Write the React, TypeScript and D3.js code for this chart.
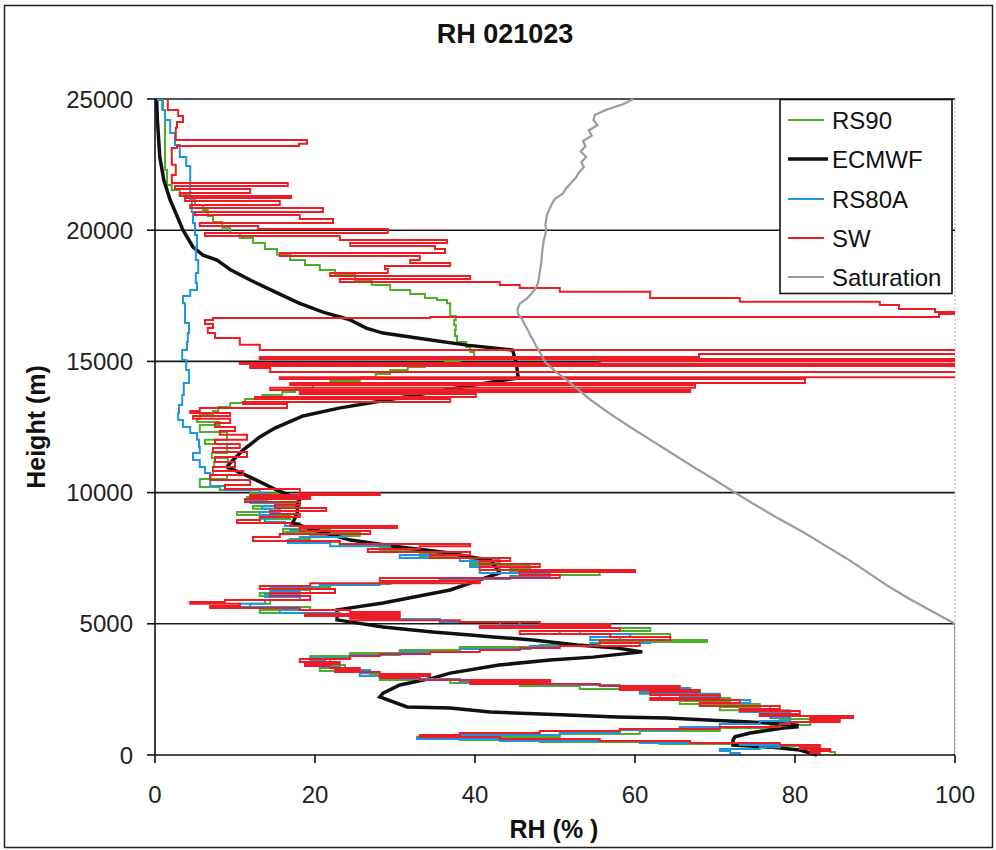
import React from "react";
import * as d3 from "d3";

// Profiles of relative humidity: [height (m), RH (%)]
const rs90: [number, number][] = [
  [24960, 0.6], [24580, 1], [24080, 1.25], [22300, 1.25], [21720, 1.5], [21530, 2.1], [21380, 3.1],
  [21190, 4.4], [20960, 5], [20770, 6], [20540, 6.6], [20310, 7.25], [20090, 8.4], [19890, 9.4],
  [19700, 10.6], [19510, 12.25], [19280, 13.75], [19060, 15.25], [18860, 16.9], [18670, 18.75],
  [18480, 20.6], [18290, 22.5], [18100, 25], [17910, 27.1], [17720, 29.4], [17570, 31.9], [17420, 33.75],
  [17340, 35.25], [17220, 36.5], [17040, 36.9], [16730, 36.9], [16580, 37.6], [16390, 37.4], [16200, 37.6],
  [15970, 37.5], [15740, 37.75], [15550, 38.9], [15360, 39.4], [15170, 39.9], [15020, 38.1], [14900, 36.25],
  [14790, 33.75], [14670, 31.6], [14520, 29.4], [14400, 27.6], [14250, 25.6], [14100, 21.9], [14000, 19.75],
  [13830, 17.5], [13720, 15.9], [13570, 13.4], [13410, 11.25], [13260, 9.4], [13110, 7.9], [12960, 7.25],
  [12810, 5.6], [12690, 5.25], [12580, 8.1], [12460, 5.6], [12310, 5.6], [12160, 9], [12010, 9],
  [11850, 6.25], [11660, 9], [11510, 9], [11320, 7.1], [11170, 9.1], [10980, 7.4], [10820, 9.1],
  [10670, 7.25], [10520, 9], [10370, 5.6], [10210, 5.6], [10100, 8.1], [9980, 11.9], [9830, 15.6],
  [9720, 11.5], [9600, 14], [9490, 18.1], [9380, 12.25], [9260, 14.4], [9150, 10.25], [8990, 16.9],
  [8840, 13.1], [8730, 18.1], [8610, 21.9], [8500, 16], [8350, 25.6], [8230, 19.4], [8120, 16.9],
  [8000, 23.1], [7890, 30.6], [7770, 28.1], [7660, 35.6], [7550, 33.1], [7430, 39.4], [7320, 43.1],
  [7200, 39.4], [7090, 46.9], [6970, 44.4], [6860, 55.6], [6750, 45.6], [6630, 35.6], [6520, 29.4],
  [6400, 21.9], [6290, 16.9], [6170, 19.4], [6060, 13.1], [5910, 18.1], [5760, 14.4], [5640, 11.9],
  [5530, 19.4], [5410, 13.1], [5300, 21.9], [5180, 28.1], [5070, 35.6], [4950, 45.6], [4840, 55.6],
  [4730, 61.9], [4610, 53.1], [4500, 64.4], [4380, 58.1], [4310, 69], [4190, 55.6], [4120, 48.1],
  [4000, 38.1], [3890, 30.6], [3770, 24.4], [3660, 19.4], [3540, 21.9], [3430, 18.75], [3320, 23.75],
  [3200, 20.6], [3090, 26.9], [2970, 33.1], [2860, 28.1], [2740, 36.9], [2630, 45.6], [2520, 53.1],
  [2400, 60.6], [2290, 68.1], [2170, 63.1], [2060, 71.9], [1940, 65.6], [1830, 75.6], [1710, 70.6],
  [1600, 79.4], [1490, 75.6], [1370, 84.4], [1260, 78.1], [1140, 81.9], [1030, 76.9], [910, 70.6],
  [800, 60.6], [690, 50.6], [570, 38.1], [500, 48.1], [420, 63.1], [340, 74.4], [270, 83.1],
  [190, 81.9], [110, 84.4], [0, 85],
];

const ecmwf: [number, number][] = [
  [25000, 0.2], [24200, 0.3], [22790, 0.6], [21910, 1.1], [21150, 1.9], [20580, 2.7], [20000, 3.5],
  [19360, 4.75], [19050, 6], [18860, 7.75], [18480, 9.5], [18100, 11.9], [17650, 15], [17220, 18],
  [16880, 21], [16580, 24.4], [16270, 26.4], [16080, 28.5], [15810, 34.7], [15620, 39], [15430, 44.7],
  [14860, 45.2], [14370, 45.4], [14210, 42], [13910, 36.3], [13530, 29], [13220, 23], [12920, 18.5],
  [12460, 15], [12120, 13.1], [11620, 11], [11130, 9.4], [10980, 9], [10590, 11.9], [10100, 15.2],
  [9720, 18.1], [9530, 17.8], [9220, 17.8], [8840, 17.2], [8570, 20], [8190, 24.4], [7930, 30.6],
  [7700, 36.9], [7550, 39.4], [7430, 41.9], [6940, 43.1], [6550, 39.4], [6290, 36.9], [5790, 28.5],
  [5530, 22.75], [5150, 22.75], [4880, 28.5], [4690, 34.7], [4570, 39.4], [4500, 42.25], [4380, 47.25],
  [4190, 52.75], [4080, 57.75], [3930, 60.9], [3730, 54.75], [3620, 49.4], [3430, 43], [3120, 36.9],
  [2930, 34.7], [2670, 30.6], [2360, 28.5], [2210, 28.1], [1830, 31.5], [1790, 36.9], [1640, 41.9],
  [1520, 51.5], [1450, 57.75], [1410, 64], [1330, 69], [1260, 74.4], [1140, 80.25], [1070, 80.25],
  [1030, 78.5], [840, 74.4], [690, 72.5], [570, 72.25], [380, 72.25], [300, 76.9], [190, 80.6],
  [0, 82.75],
];

const rs80a: [number, number][] = [
  [24960, 0.25], [24580, 0.9], [24200, 1.25], [23700, 1.9], [23250, 2.5], [22790, 3.1], [22450, 3.9],
  [22180, 4.4], [21720, 4.4], [21150, 4.4], [20690, 4.6], [20270, 4.75], [19820, 5], [19360, 5.25],
  [18860, 5.1], [18370, 5.4], [17990, 5.1], [17720, 5.25], [17490, 4.4], [17220, 3.5], [16850, 3.75],
  [16460, 3.75], [16080, 4.25], [15740, 4.1], [15430, 4], [15050, 3.4], [14670, 3.9], [14180, 4.25],
  [13720, 3.6], [13340, 3.4], [13030, 3], [12770, 2.9], [12500, 3.5], [12270, 4.4], [12010, 5.25],
  [11740, 5.5], [11510, 5.6], [11240, 4.75], [10980, 5.6], [10750, 6.25], [10480, 6.9], [10250, 6.9],
  [10100, 8.75], [9950, 13.1], [9830, 14], [9720, 13.4], [9600, 11.9], [9490, 15.25], [9380, 13.4],
  [9260, 15.6], [9150, 13.1], [9030, 15], [8880, 13.75], [8730, 16.25], [8570, 18.1], [8420, 16.9],
  [8310, 23.75], [8190, 18.1], [8080, 16.6], [7960, 21.9], [7850, 29.4], [7740, 31.9], [7620, 34.4],
  [7510, 30.6], [7390, 38.1], [7280, 41.9], [7160, 39.4], [7050, 43.1], [6940, 40.6], [6820, 49.4],
  [6710, 44.4], [6590, 35.6], [6480, 28.1], [6360, 20.6], [6250, 14.4], [6140, 18.1], [6020, 13.75],
  [5910, 18.1], [5760, 13.75], [5640, 10.6], [5530, 18.1], [5410, 15.6], [5300, 23.1], [5180, 25.6],
  [5070, 35.6], [4950, 43.1], [4840, 51.9], [4730, 58.1], [4610, 50.6], [4500, 59.4], [4380, 54.4],
  [4270, 61.9], [4150, 54.4], [4040, 46.9], [3930, 38.1], [3810, 30.6], [3700, 24.4], [3580, 19.4],
  [3470, 21.25], [3350, 20.6], [3240, 23.1], [3120, 26.9], [3010, 25.6], [2900, 30.6], [2780, 38.1],
  [2670, 48.1], [2550, 58.1], [2440, 66.9], [2330, 60.6], [2210, 70.6], [2100, 65.6], [1980, 74.4],
  [1870, 68.1], [1750, 76.9], [1640, 73.1], [1520, 79.4], [1410, 76.9], [1300, 79.4], [1180, 75.6],
  [1070, 70.6], [950, 65.6], [840, 58.1], [760, 50.6], [690, 34.4], [610, 32.75], [530, 43.1],
  [460, 60.6], [380, 73.1], [300, 78.1], [230, 75.6], [150, 70.6], [80, 71.9], [0, 73.1],
];

const sw: [number, number][] = [
  [24960, 1.5], [24580, 1.6], [24350, 2.9], [24120, 3.5], [23900, 2.75], [23440, 2.6], [23290, 19],
  [23210, 18], [23130, 2.75], [22980, 2.1], [22490, 2.1], [22100, 2.6], [21800, 2.1], [21680, 16.6],
  [21570, 2.5], [21420, 11.9], [21300, 3.1], [21230, 17], [21110, 3.75], [20960, 15.6], [20850, 4.4],
  [20690, 21], [20580, 5], [20430, 18.1], [20270, 22.25], [20160, 5.6], [20050, 12.9], [19890, 29.1],
  [19780, 6.25], [19630, 23.1], [19510, 36.5], [19400, 24.4], [19280, 35], [19130, 36.25], [19020, 15.6],
  [18860, 33.1], [18750, 31.9], [18640, 36.9], [18520, 28.75], [18370, 29.1], [18250, 21.9], [18140, 39.4],
  [18030, 23.1], [17910, 43.1], [17800, 45.6], [17650, 50.6], [17420, 61.9], [17270, 73.1], [17150, 90.6],
  [17000, 93], [16880, 97.5], [16810, 103], [16690, 98], [16690, 68], [16650, 34.4], [16580, 7.25],
  [16430, 6.25], [16270, 7.25], [16080, 6.6], [15890, 7.5], [15630, 10.6], [15430, 13.1], [15280, 104],
  [15170, 68], [15090, 13.1], [15020, 104], [14940, 55.6], [14900, 10.6], [14820, 104], [14750, 11.9],
  [14600, 14.4], [14400, 104], [14330, 15.6], [14180, 81.25], [14100, 16.9], [14000, 67.5], [13910, 14.4],
  [13830, 66.9], [13760, 18.1], [13640, 40.1], [13570, 12.5], [13450, 36.9], [13380, 11], [13220, 16.5],
  [13110, 5.6], [13030, 4.4], [12920, 9.4], [12810, 4.75], [12650, 9.4], [12500, 7.5], [12350, 10],
  [12200, 8.1], [12010, 11.5], [11850, 7.5], [11700, 10.6], [11550, 7.25], [11360, 11.5], [11170, 7.5],
  [10980, 10], [10820, 7.25], [10670, 11], [10480, 6.9], [10290, 11.9], [10140, 8.75], [9980, 18.1],
  [9910, 28.1], [9830, 11.9], [9760, 19.4], [9640, 11.25], [9530, 18.1], [9410, 15], [9300, 21.4],
  [9180, 14.4], [9070, 18.1], [8960, 13.1], [8840, 10.25], [8730, 16.9], [8650, 30.25], [8540, 18.1],
  [8420, 26.9], [8310, 15.6], [8160, 12.25], [8040, 23.1], [7960, 39.4], [7850, 33.1], [7740, 26.6],
  [7620, 39.4], [7510, 34.4], [7390, 44.4], [7280, 40.6], [7160, 48.1], [7050, 40.6], [6970, 60],
  [6860, 45.6], [6750, 50.6], [6630, 28.1], [6550, 40.6], [6440, 19.4], [6330, 13.1], [6170, 22.5],
  [6060, 14.4], [5910, 19.4], [5830, 8.75], [5760, 4.4], [5680, 10.6], [5600, 6.9], [5530, 18.1],
  [5450, 24.4], [5370, 30.6], [5300, 18.75], [5220, 30.6], [5140, 24.4], [5070, 38.1], [4990, 48.1],
  [4920, 56.9], [4840, 40.6], [4730, 58.1], [4610, 45.6], [4500, 56.9], [4380, 64.4], [4270, 55.6],
  [4150, 60.6], [4080, 50.6], [4000, 45.6], [3930, 40.6], [3850, 34.4], [3770, 28.1], [3660, 24.4],
  [3540, 18.1], [3470, 23.1], [3390, 18.75], [3320, 21.9], [3240, 25.6], [3160, 22.5], [3090, 28.1],
  [3010, 34.4], [2930, 28.1], [2860, 33.1], [2780, 49.4], [2710, 39.4], [2630, 55.6], [2550, 65.6],
  [2480, 58.1], [2400, 68.1], [2290, 61.9], [2170, 70.6], [2100, 61.9], [1980, 73.1], [1870, 68.1],
  [1750, 78.1], [1680, 73.1], [1560, 80.6], [1490, 75.6], [1410, 87.25], [1330, 81.9], [1260, 85.6],
  [1180, 79.4], [1070, 78.1], [990, 70.6], [910, 58.1], [840, 48.1], [760, 38.1], [690, 33.1],
  [610, 43.1], [530, 55.6], [460, 66.9], [380, 78.1], [300, 83.1], [230, 80.6], [150, 84.4],
  [80, 81.9], [0, 83.1],
];

const saturation: [number, number][] = [
  [25000, 59.8], [24800, 58.5], [24600, 56.5], [24400, 55], [24200, 54.8], [24000, 55.3], [23800, 54.2],
  [23600, 54.6], [23400, 53.5], [23200, 53.8], [23000, 53.2], [22800, 53.9], [22600, 53.3], [22400, 53.6],
  [22200, 53.0], [22000, 52.6], [21800, 52.0], [21600, 51.4], [21400, 51.0], [21200, 50.0], [21000, 49.6],
  [20800, 49.3], [20600, 49.0], [20400, 48.9], [20200, 48.8], [20000, 48.9], [19600, 48.6], [19200, 48.4],
  [18800, 48.3], [18400, 48.1], [18000, 47.9], [17800, 47.6], [17600, 47.1], [17400, 46.5], [17200, 45.6],
  [17000, 45.3], [16800, 45.4], [16600, 45.9], [16400, 46.2], [16200, 46.6], [16000, 46.9], [15800, 47.3],
  [15600, 47.6], [15400, 48.0], [15200, 48.4], [15000, 48.7], [14800, 49.4], [14600, 50.1], [14400, 51.0],
  [14200, 51.8], [14000, 52.6], [13500, 54.6], [13000, 56.9], [12500, 59.4], [12000, 62.0], [11500, 64.6],
  [11000, 67.2], [10500, 69.9], [10000, 72.5], [9500, 75.2], [9000, 78.0], [8500, 81.0], [8000, 83.7],
  [7500, 86.4], [7000, 88.9], [6500, 91.3], [6000, 94.0], [5500, 97.0], [5000, 100], [0, 100],
];

const heightTicks = [0, 5000, 10000, 15000, 20000, 25000];
const rhTicks = [0, 20, 40, 60, 80, 100];

const series = [
  { name: "RS90", data: rs90, color: "#4caf2a", width: 2, stepped: true },
  { name: "ECMWF", data: ecmwf, color: "#111111", width: 3.5, stepped: false },
  { name: "RS80A", data: rs80a, color: "#1e96dc", width: 2, stepped: true },
  { name: "SW", data: sw, color: "#ee1c25", width: 2, stepped: true },
  { name: "Saturation", data: saturation, color: "#9b9b9b", width: 2.2, stepped: false },
];

const W = 996;
const H = 850;
const plot = { left: 155, right: 955, top: 99, bottom: 755 };
const FONT = "'Liberation Sans', Arial, sans-serif";

export default function App() {
  const x = d3.scaleLinear().domain([0, 100]).range([plot.left, plot.right]);
  const y = d3.scaleLinear().domain([0, 25000]).range([plot.bottom, plot.top]);
  const makeLine = (stepped: boolean) =>
    d3
      .line<[number, number]>()
      .x((d) => x(d[1]))
      .y((d) => y(d[0]))
      .curve(stepped ? d3.curveStepAfter : d3.curveLinear);

  const legendRows = [120, 159, 199, 238, 277];

  return (
    <svg
      width={W}
      height={H}
      viewBox={`0 0 ${W} ${H}`}
      style={{ position: "absolute", left: 0, top: 0, background: "#fff" }}
    >
      <defs>
        <clipPath id="plotClip">
          <rect x={plot.left} y={plot.top - 2} width={plot.right - plot.left} height={plot.bottom - plot.top + 4} />
        </clipPath>
      </defs>
      <rect x={0} y={0} width={W} height={H} fill="#fff" />
      {/* outer chart frame */}
      <rect x={4.5} y={5.5} width={988} height={842} fill="none" stroke="#222" strokeWidth={1.5} />

      {/* title */}
      <text x={505} y={43} textAnchor="middle" fontFamily={FONT} fontWeight="bold" fontSize={27} fill="#111">
        RH 021023
      </text>

      {/* horizontal gridlines */}
      {heightTicks.filter((t) => t > 0).map((t) => (
        <line key={t} x1={plot.left} x2={plot.right} y1={y(t)} y2={y(t)} stroke="#1a1a1a" strokeWidth={1.6} />
      ))}
      {/* right edge of plot area */}
      <line x1={plot.right} x2={plot.right} y1={plot.top} y2={plot.bottom} stroke="#b0b0b0" strokeWidth={1} strokeDasharray="2,2" />

      {/* series */}
      <g clipPath="url(#plotClip)">
        {series.map((s) => (
          <path
            key={s.name}
            d={makeLine(s.stepped)(s.data) || ""}
            fill="none"
            stroke={s.color}
            strokeWidth={s.width}
            strokeLinejoin="miter"
          />
        ))}
      </g>

      {/* axes */}
      <line x1={plot.left} x2={plot.left} y1={plot.top} y2={plot.bottom} stroke="#111" strokeWidth={1.6} />
      <line x1={plot.left} x2={plot.right} y1={plot.bottom} y2={plot.bottom} stroke="#111" strokeWidth={1.6} />
      {heightTicks.map((t) => (
        <g key={t}>
          <line x1={plot.left - 8} x2={plot.left} y1={y(t)} y2={y(t)} stroke="#111" strokeWidth={1.6} />
          <text x={133} y={y(t) + 8.5} textAnchor="end" fontFamily={FONT} fontSize={24} fill="#222">
            {t}
          </text>
        </g>
      ))}
      {rhTicks.map((t) => (
        <g key={t}>
          <line x1={x(t)} x2={x(t)} y1={plot.bottom} y2={plot.bottom + 8} stroke="#111" strokeWidth={1.6} />
          <text x={x(t)} y={803} textAnchor="middle" fontFamily={FONT} fontSize={24} fill="#222">
            {t}
          </text>
        </g>
      ))}

      {/* axis titles */}
      <text
        transform={`translate(45, 427) rotate(-90)`}
        textAnchor="middle"
        fontFamily={FONT}
        fontWeight="bold"
        fontSize={25}
        fill="#111"
      >
        Height (m)
      </text>
      <text x={554} y={838} textAnchor="middle" fontFamily={FONT} fontWeight="bold" fontSize={25} fill="#111">
        RH (% )
      </text>

      {/* legend */}
      <rect x={780} y={99.5} width={172} height={194} fill="#fff" stroke="#111" strokeWidth={1.6} />
      {series.map((s, i) => (
        <g key={s.name}>
          <line
            x1={788}
            x2={s.name === "ECMWF" ? 828 : 824}
            y1={legendRows[i]}
            y2={legendRows[i]}
            stroke={s.color}
            strokeWidth={s.name === "ECMWF" ? 3.5 : s.width}
          />
          <text x={832} y={legendRows[i] + 8.5} fontFamily={FONT} fontSize={24} fill="#111">
            {s.name}
          </text>
        </g>
      ))}
    </svg>
  );
}
